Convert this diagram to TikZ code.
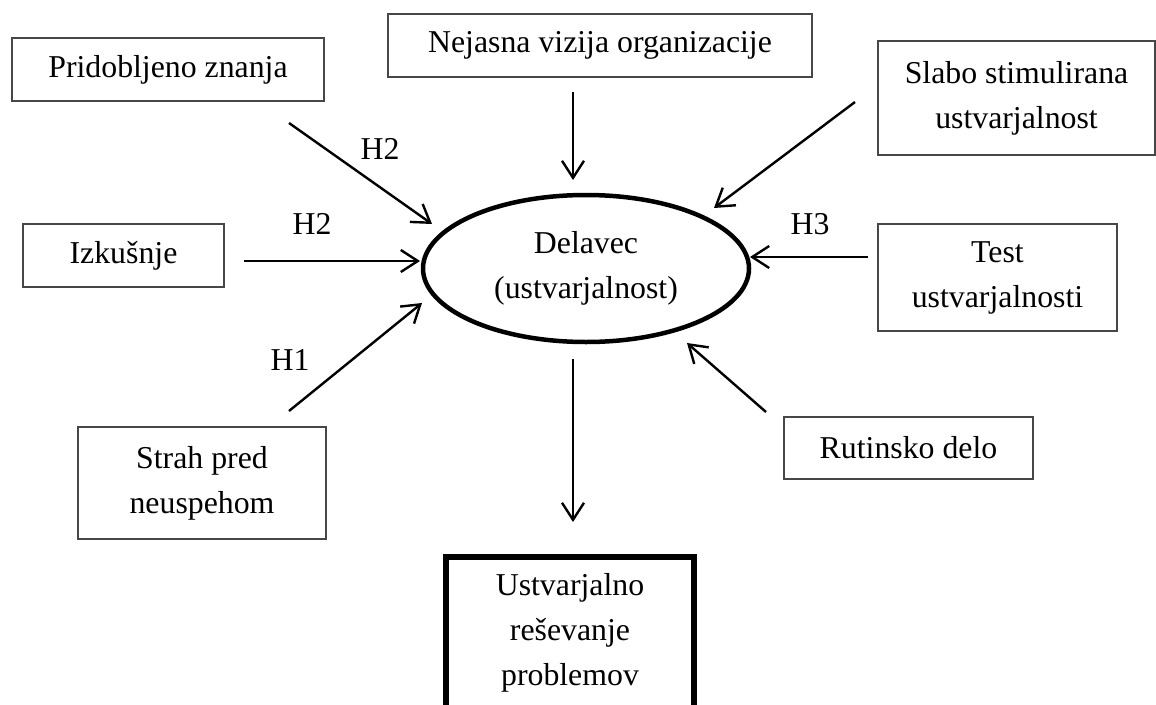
\documentclass[tikz,border=0pt]{standalone}
\usepackage{fontspec}
\setmainfont{Liberation Serif}
\usetikzlibrary{arrows.meta,shapes.geometric}
\begin{document}
\begin{tikzpicture}[x=1pt,y=-1pt,
  txt/.style={font=\fontsize{31.8}{45}\selectfont},
  box/.style={txt, draw=black!72, line width=1.4pt, rectangle, inner sep=0pt, align=center},
  lbl/.style={txt, inner sep=0pt},
  arr/.style={line width=2.4pt, -{Straight Barb[length=17pt,width=22pt]}},
]
\useasboundingbox (0,0) rectangle (1156,704);
\clip (0,0) rectangle (1156,704);
% boxes
\node[box, minimum width=312pt, minimum height=63pt] (pz) at (168,69.5) {Pridobljeno znanja};
\node[box, minimum width=424pt, minimum height=63pt] (nv) at (600,45.5) {Nejasna vizija organizacije};
\node[box, minimum width=277pt, minimum height=114pt] (ss) at (1016.5,98) {Slabo stimulirana\\ustvarjalnost};
\node[box, minimum width=201pt, minimum height=63pt] (iz) at (123.5,255.5) {Izkušnje};
\node[box, minimum width=239pt, minimum height=107pt] (ts) at (997.5,277.5) {Test\\ustvarjalnosti};
\node[box, minimum width=248pt, minimum height=112pt] (st) at (202,483) {Strah pred\\neuspehom};
\node[box, minimum width=249pt, minimum height=62pt] (rd) at (908.5,448) {Rutinsko delo};
\node[box, draw=black, line width=6pt, minimum width=248pt, minimum height=152pt] (out) at (570,633) {Ustvarjalno\\reševanje\\problemov};
% central ellipse
\node[txt, ellipse, draw=black, line width=4.5pt, minimum width=326pt, minimum height=147pt, inner sep=0pt, align=center] (del) at (586,268.5) {Delavec\\(ustvarjalnost)};
% connector end points
\coordinate (pzs) at (289,123);  \coordinate (pzt) at (432,224);
\coordinate (nvs) at (573,92);   \coordinate (nvt) at (573,180);
\coordinate (sss) at (855,102);  \coordinate (sst) at (714,208);
\coordinate (izs) at (244,261);  \coordinate (izt) at (420,261);
\coordinate (sts) at (289,411);  \coordinate (stt) at (422,303);
\coordinate (tss) at (868,257);  \coordinate (tst) at (750,257);
\coordinate (rds) at (766,412);  \coordinate (rdt) at (687,343);
\coordinate (outs) at (573,359); \coordinate (outt) at (573,522);
% connectors
\draw[arr] (pzs) -- (pzt);
\draw[arr] (nvs) -- (nvt);
\draw[arr] (sss) -- (sst);
\draw[arr] (izs) -- (izt);
\draw[arr] (sts) -- (stt);
\draw[arr] (tss) -- (tst);
\draw[arr] (rds) -- (rdt);
\draw[arr] (outs) -- (outt);
% labels
\node[lbl] (h2a) at (380,149) {H2};
\node[lbl] (h2b) at (312,224) {H2};
\node[lbl] (h1) at (290,360) {H1};
\node[lbl] (h3) at (810,224) {H3};
\end{tikzpicture}
\end{document}
